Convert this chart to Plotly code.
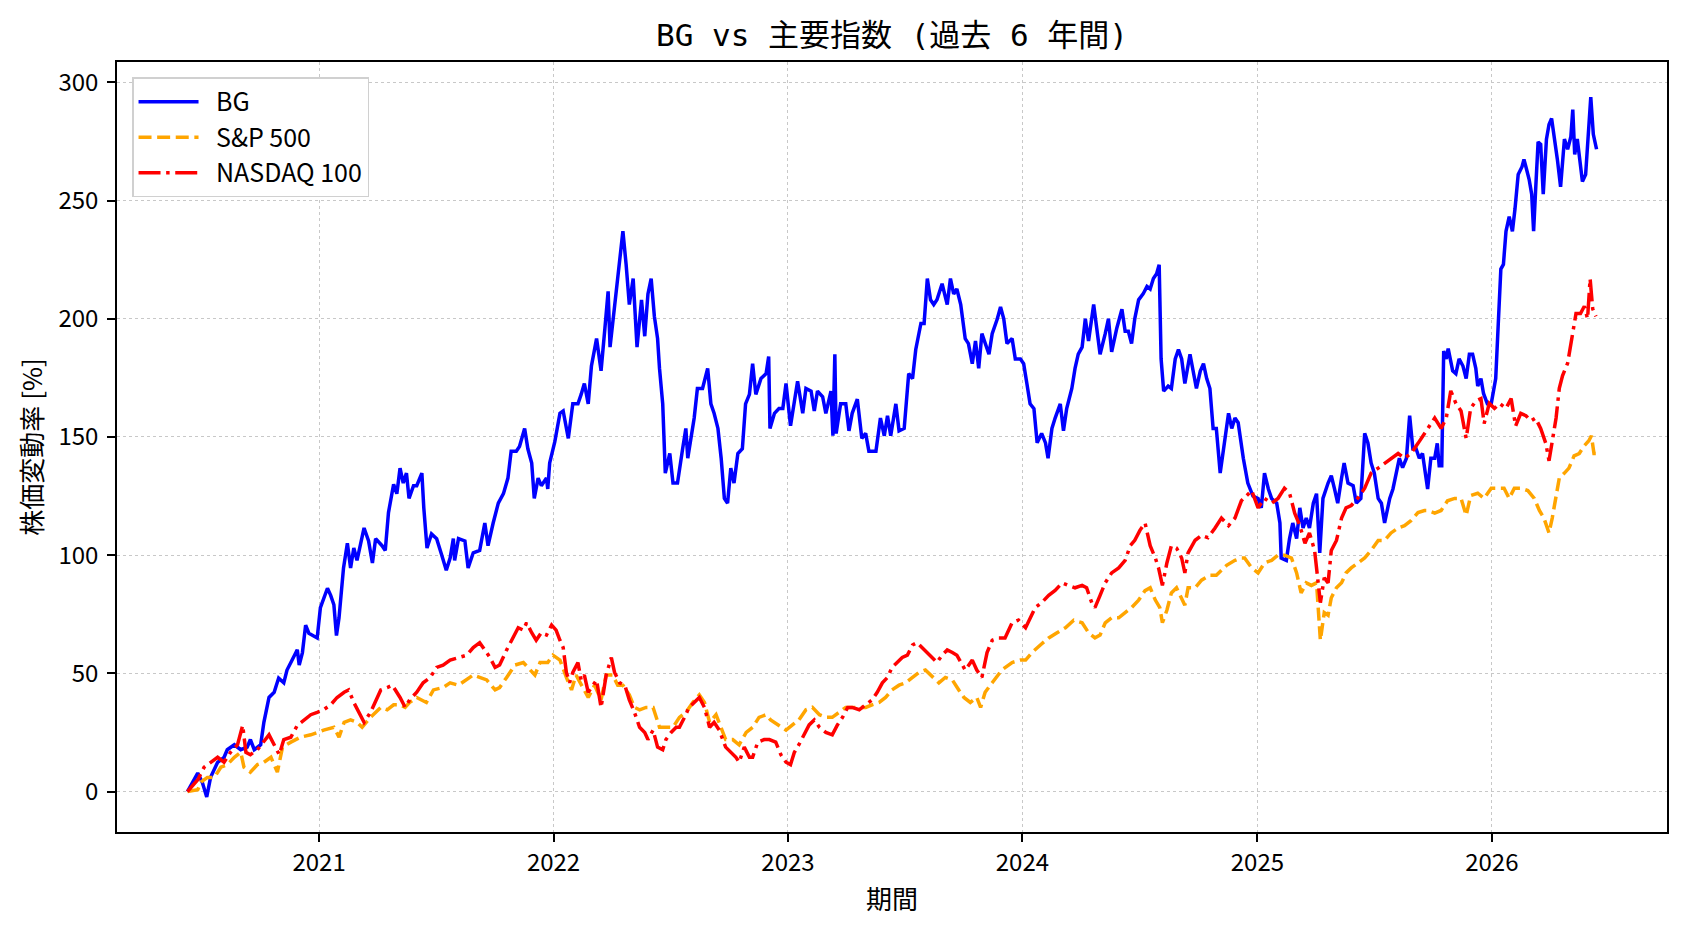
import pandas as pd
import plotly.graph_objects as go

START = pd.Timestamp("2020-06-10")

# BG: days since 2020-06-10 and % change
bg_days = [0,16,23,30,36,47,57,62,73,83,93,98,104,114,119,127,135,142,150,155,161,171,174,179,184,189,202,207,218,223,228,232,236,243,249,254,259,264,275,282,288,293,303,308,313,321,326,331,336,341,345,352,357,365,368,373,380,388,396,403,409,414,416,422,432,437,445,455,463,468,476,484,492,499,504,512,517,525,530,536,540,546,551,559,561,564,572,580,585,593,600,608,613,618,624,629,637,644,650,655,658,662,670,674,678,683,688,694,700,707,712,717,722,727,732,735,740,744,751,756,763,771,776,779,784,789,794,802,810,815,820,826,831,836,841,846,851,857,864,869,875,880,885,893,901,905,907,914,921,927,932,939,945,950,958,963,971,976,981,989,994,1002,1005,1008,1010,1017,1025,1030,1035,1043,1050,1056,1061,1072,1079,1085,1090,1095,1103,1108,1116,1121,1123,1129,1134,1142,1147,1152,1157,1162,1167,1175,1183,1188,1193,1198,1204,1211,1216,1222,1227,1232,1237,1248,1253,1261,1266,1271,1276,1284,1289,1297,1302,1307,1312,1318,1323,1330,1336,1340,1346,1351,1359,1364,1369,1377,1382,1387,1393,1398,1403,1411,1416,1421,1429,1434,1439,1447,1455,1460,1465,1470,1475,1481,1488,1494,1499,1504,1509,1513,1516,1520,1527,1532,1538,1543,1548,1553,1561,1566,1571,1577,1582,1587,1592,1597,1602,1608,1615,1621,1626,1631,1636,1644,1651,1659,1667,1672,1677,1683,1688,1696,1701,1703,1711,1716,1721,1727,1732,1737,1742,1747,1753,1758,1763,1768,1776,1781,1786,1791,1797,1801,1807,1815,1820,1827,1833,1838,1843,1848,1854,1859,1864,1872,1877,1882,1887,1892,1898,1903,1908,1913,1918,1923,1929,1931,1936,1942,1946,1949,1953,1956,1960,1963,1970,1975,1980,1986,1991,1996,2001,2006,2009,2014,2018,2024,2030,2034,2037,2041,2045,2049,2053,2058,2063,2067,2072,2078,2081,2084,2089,2093,2096,2099,2103,2107,2111,2116,2120,2124,2128,2133,2138,2144,2149,2154,2157,2160,2164,2168,2172,2177,2181,2185,2189,2194]
bg_vals = [0.0,7.8,4.0,-2.3,6.0,12.4,14.5,17.7,19.8,17.7,18.8,22.0,17.7,19.8,29.3,39.8,42.0,48.0,46.0,51.4,54.6,60.0,53.5,58.8,70.4,67.0,65.0,77.8,86.0,83.0,79.0,66.0,73.5,94.6,105.0,94.6,103.0,97.8,111.5,106.0,96.7,107.0,104.0,102.0,118.0,130.0,126.0,136.8,130.5,134.7,124.0,129.4,129.4,134.7,120.0,103.0,109.0,107.0,100.0,93.6,98.8,107.0,97.8,107.0,106.0,94.6,101.0,102.0,113.6,104.0,113.6,122.0,126.0,132.6,144.0,144.0,146.0,153.6,145.0,139.0,124.0,132.6,129.4,132.6,128.0,139.0,148.0,160.0,161.0,149.4,164.0,164.0,168.0,172.6,164.0,180.0,191.6,178.0,196.0,211.6,188.0,198.0,215.8,227.0,237.0,223.0,206.0,217.0,188.0,208.0,192.6,210.5,217.0,201.0,191.6,179.0,164.0,134.7,143.0,130.5,130.5,145.0,153.6,141.0,149.4,158.0,170.5,170.5,179.0,164.0,160.0,153.6,141.0,124.0,122.0,136.8,130.5,143.0,145.0,164.0,168.0,181.0,168.0,174.7,176.8,184.0,153.6,160.0,162.0,162.0,172.6,154.7,165.0,173.6,160.0,170.5,169.4,161.0,169.4,167.0,160.0,169.4,150.5,185.0,151.5,164.0,164.0,152.6,160.0,166.0,149.4,151.5,144.0,144.0,158.0,150.5,159.0,150.5,164.0,152.6,153.6,170.5,176.8,174.7,187.0,198.0,198.0,217.0,208.0,206.0,208.0,214.8,206.0,217.0,210.5,212.6,206.0,191.6,189.5,181.0,190.6,179.0,193.7,185.0,193.7,200.0,205.0,200.0,189.5,191.6,183.0,183.0,181.0,172.6,164.0,162.0,147.5,151.5,147.5,141.0,153.6,158.0,164.0,152.6,162.0,170.5,179.0,185.0,188.0,200.0,190.6,206.0,196.0,185.0,193.7,200.0,186.0,196.0,204.0,194.7,194.7,189.5,200.0,208.0,210.5,213.7,212.6,217.0,219.0,222.8,183.0,169.4,171.5,170.5,183.0,187.0,183.0,172.6,185.0,176.8,170.5,177.9,181.0,174.7,170.5,153.6,153.6,134.7,149.4,160.0,153.6,158.0,156.0,141.0,130.5,125.0,124.0,120.0,134.7,128.0,124.0,122.0,113.6,98.8,97.8,107.0,113.6,107.0,120.0,111.5,115.7,111.5,122.0,126.0,101.0,124.0,130.5,133.6,128.0,122.0,132.6,139.0,130.5,129.4,122.0,124.0,151.5,147.5,139.0,134.7,124.0,122.0,113.6,124.0,128.0,134.7,141.0,137.0,141.0,159.0,145.0,145.0,141.0,143.0,132.6,128.0,141.0,141.0,147.3,137.8,137.8,186.3,183.0,187.4,178.0,176.8,183.0,180.0,174.7,185.0,185.0,179.0,171.5,174.7,168.4,164.0,164.0,170.5,174.7,198.0,221.0,223.0,237.0,243.2,237.0,246.4,261.0,264.3,267.4,264.3,259.0,252.7,237.0,253.7,274.8,273.8,252.7,276.0,282.2,284.7,278.0,267.4,255.8,276.0,271.7,277.0,288.5,269.5,276.0,265.3,258.0,261.0,278.0,293.8,278.0,271.7]

# S&P 500
sp_days = [0,16,21,31,42,52,62,73,83,88,98,109,119,130,140,148,161,176,192,202,212,228,236,244,254,264,272,285,301,311,321,331,339,346,357,372,383,398,409,422,435,445,455,466,479,486,497,510,523,533,541,549,561,569,580,590,598,605,616,624,634,644,652,662,670,678,688,696,704,714,725,735,745,756,766,776,787,797,805,813,823,831,838,849,859,870,880,890,901,908,921,932,942,952,963,973,984,994,1004,1015,1025,1035,1046,1056,1066,1077,1087,1097,1108,1118,1129,1139,1149,1160,1170,1180,1191,1201,1209,1219,1229,1235,1242,1253,1268,1284,1297,1305,1315,1328,1341,1354,1367,1380,1393,1403,1413,1421,1429,1439,1450,1460,1470,1481,1491,1499,1507,1514,1518,1525,1532,1540,1548,1553,1558,1569,1579,1592,1602,1610,1618,1631,1641,1646,1657,1667,1677,1688,1698,1708,1719,1727,1734,1742,1750,1758,1761,1764,1770,1776,1781,1789,1797,1804,1812,1822,1833,1843,1854,1864,1874,1885,1895,1905,1916,1926,1931,1942,1952,1962,1973,1983,1991,1998,2009,2019,2030,2040,2050,2058,2066,2076,2087,2097,2105,2112,2120,2125,2131,2136,2144,2151,2159,2167,2175,2182,2186,2190,2194]
sp_vals = [0.0,0.8,4.0,6.0,6.0,10.3,11.4,14.5,16.6,10.3,8.2,11.4,12.4,14.5,8.2,18.8,20.9,23.0,24.0,25.0,26.0,27.2,23.0,29.3,30.3,29.3,27.2,31.4,35.6,34.6,36.7,36.7,35.6,37.7,39.8,37.7,43.0,44.0,46.0,45.0,47.2,49.3,48.3,47.2,43.0,44.0,48.3,53.5,54.6,51.4,49.3,54.6,54.6,57.7,55.6,48.3,43.0,49.3,44.0,39.8,45.0,38.8,49.3,49.3,45.0,45.0,40.9,35.6,34.6,35.6,35.6,27.2,27.2,27.2,31.4,33.5,37.7,40.9,37.7,29.3,32.5,27.2,22.0,22.0,19.8,25.0,27.2,31.4,32.5,30.3,28.2,26.0,28.2,30.3,34.6,35.6,32.5,31.4,31.4,33.5,35.6,35.6,35.6,35.6,36.7,37.7,39.8,43.0,45.0,46.0,48.3,50.4,51.4,48.3,46.0,48.3,47.2,43.0,39.8,37.7,39.8,35.6,42.0,46.0,51.4,54.6,55.6,55.6,58.8,62.0,65.0,67.2,69.3,72.5,71.4,67.2,65.0,66.2,71.4,73.5,73.5,75.7,77.8,81.0,85.0,86.2,81.0,77.8,71.4,76.7,84.0,86.2,82.0,78.8,86.2,86.2,89.4,91.5,91.5,93.6,95.7,97.8,98.8,98.8,94.6,92.5,96.7,97.8,100.0,100.0,98.8,92.5,84.0,88.3,87.2,88.3,73.5,64.0,75.7,74.6,82.0,86.2,88.3,92.5,94.6,96.7,98.8,102.0,106.2,106.2,109.4,111.5,112.5,114.6,118.0,118.9,118.9,117.8,118.9,123.0,124.0,124.0,116.8,125.2,126.2,124.0,128.3,128.3,128.3,124.0,128.3,128.3,127.3,124.0,118.9,115.7,109.4,115.7,124.0,132.6,134.7,136.8,142.0,143.0,146.3,148.4,150.5,143.0,143.0]

# NASDAQ 100
nq_days = [0,16,26,36,47,57,67,78,86,91,98,109,119,127,135,143,150,161,171,181,192,202,212,223,233,244,251,259,267,275,285,301,311,319,331,339,346,357,367,378,388,398,409,422,435,445,455,463,471,479,486,497,507,515,523,528,536,543,551,559,567,574,580,585,590,595,600,608,613,618,624,629,637,644,652,660,665,673,681,688,696,704,712,717,725,732,740,745,753,761,766,774,781,789,797,805,813,820,828,838,846,854,859,867,875,880,888,898,906,916,924,932,939,945,952,960,968,976,984,994,1004,1012,1020,1028,1035,1046,1056,1066,1074,1082,1090,1097,1105,1113,1121,1129,1136,1144,1152,1160,1167,1175,1183,1191,1198,1211,1222,1229,1237,1245,1253,1263,1273,1284,1294,1305,1312,1320,1330,1341,1351,1362,1372,1382,1393,1400,1408,1413,1421,1429,1439,1450,1460,1468,1475,1483,1491,1499,1507,1512,1518,1525,1532,1540,1548,1553,1558,1569,1579,1589,1600,1610,1621,1631,1641,1652,1657,1667,1677,1688,1698,1708,1716,1724,1732,1740,1747,1755,1760,1764,1770,1776,1781,1789,1797,1804,1812,1822,1833,1843,1854,1864,1874,1885,1895,1905,1916,1926,1931,1942,1952,1960,1967,1975,1983,1991,1998,2006,2014,2019,2027,2035,2043,2053,2061,2068,2076,2084,2092,2099,2107,2115,2120,2125,2131,2136,2141,2149,2156,2162,2169,2175,2180,2184,2188,2193]
nq_vals = [0.0,5.0,10.3,12.4,14.5,12.4,16.6,19.8,28.0,16.6,15.6,17.7,20.9,24.0,19.8,15.6,22.0,23.0,28.0,30.3,32.5,33.5,34.6,36.7,39.8,42.0,43.0,37.7,33.5,29.3,33.5,43.0,44.0,45.0,39.8,35.6,38.8,42.0,46.0,48.3,52.5,53.5,55.6,56.7,57.7,60.9,63.0,59.9,56.7,52.5,53.5,59.9,65.0,69.3,68.3,71.4,67.2,64.0,67.2,66.2,70.4,68.3,64.0,60.9,50.4,46.0,50.4,54.6,47.2,49.3,42.0,44.0,47.2,35.6,49.3,56.7,50.4,46.0,45.0,38.8,33.5,27.2,25.0,22.0,26.0,18.8,17.7,22.0,25.0,27.2,27.2,31.4,35.6,37.7,39.8,35.6,27.2,29.3,26.0,18.8,16.6,14.5,12.4,18.8,14.5,14.5,20.9,22.0,22.0,20.9,15.6,12.4,11.4,16.6,19.8,24.0,28.2,30.3,27.2,25.0,24.0,28.2,31.4,35.6,35.6,34.6,36.7,38.8,42.0,46.0,48.3,52.5,54.6,56.7,57.7,62.0,63.0,60.9,58.8,56.7,54.6,57.7,59.9,58.8,57.7,51.4,55.6,51.4,48.3,58.8,64.0,65.0,65.0,71.4,72.5,69.3,73.5,77.8,79.9,83.0,85.1,88.3,87.2,86.2,87.2,86.2,79.9,77.8,83.0,88.3,92.5,94.6,97.8,104.0,106.3,110.5,113.6,104.0,98.8,94.6,87.2,96.7,104.0,103.0,98.8,92.5,101.0,106.3,108.4,107.4,111.5,115.7,112.5,115.7,123.0,126.2,127.3,120.0,124.0,122.0,124.0,128.3,126.2,117.8,112.5,105.0,109.4,102.0,90.4,79.9,90.4,88.3,102.0,106.2,115.7,120.0,121.0,124.0,128.3,134.7,136.8,138.9,141.0,143.0,141.0,143.0,147.3,151.5,153.6,158.0,153.6,158.0,169.5,164.2,161.0,149.4,162.1,165.2,166.2,155.7,164.2,162.1,164.2,162.1,166.2,154.6,160.0,159.0,156.8,158.0,153.6,147.3,139.9,147.3,158.0,170.6,175.9,181.2,193.7,202.2,202.2,205.3,200.0,216.9,204.2,201.0]

series_names = ["BG", "S&P 500", "NASDAQ 100"]
y_ticks = [0, 50, 100, 150, 200, 250, 300]

FONT = "Noto Sans CJK JP, sans-serif"
TITLE_FONT = "DejaVu Sans Mono, Noto Sans CJK JP, monospace"
PAD = "\u2002"  # small gap between legend sample and label


def to_dates(days):
    return START + pd.to_timedelta(days, unit="D")


fig = go.Figure()
fig.add_trace(go.Scatter(x=to_dates(bg_days), y=bg_vals, mode="lines", name=PAD + series_names[0],
                         line=dict(color="#0000ff", width=3.5)))
fig.add_trace(go.Scatter(x=to_dates(sp_days), y=sp_vals, mode="lines", name=PAD + series_names[1],
                         line=dict(color="#ffa500", width=3.5, dash="13px,5.6px")))
fig.add_trace(go.Scatter(x=to_dates(nq_days), y=nq_vals, mode="lines", name=PAD + series_names[2],
                         line=dict(color="#ff0000", width=3.5, dash="22px,5.6px,3.5px,5.6px")))

all_days = bg_days + sp_days + nq_days
d0, d1 = min(all_days), max(all_days)
pad_d = (d1 - d0) * 0.05
x_range = [START + pd.Timedelta(days=d0 - pad_d), START + pd.Timedelta(days=d1 + pad_d)]
all_vals = bg_vals + sp_vals + nq_vals
v0, v1 = min(all_vals), max(all_vals)
pad_v = (v1 - v0) * 0.05
y_range = [v0 - pad_v, v1 + pad_v]

axis_common = dict(
    showline=True, linecolor="black", linewidth=1.6, mirror=True,
    ticks="outside", ticklen=8, tickwidth=1.6, tickcolor="black",
    showgrid=True, gridcolor="#c8c8c8", gridwidth=1.2, griddash="dot",
    zeroline=False, tickfont=dict(family=FONT, size=24, color="black"),
)

fig.update_layout(
    width=1688, height=932,
    margin=dict(l=117, r=21, t=62, b=100),
    paper_bgcolor="white", plot_bgcolor="white",
    title=dict(text="BG vs 主要指数 (過去 6 年間)", x=0.5, xref="paper", xanchor="center",
               y=1 - 35.5 / 932, yref="container", yanchor="middle",
               font=dict(family=TITLE_FONT, size=31, color="black")),
    xaxis=dict(type="date", range=x_range, tick0="2021-01-01", dtick="M12", tickformat="%Y",
               title=dict(text="期間", font=dict(family=FONT, size=26, color="black"), standoff=14),
               **axis_common),
    yaxis=dict(range=y_range, tickvals=y_ticks, ticklabelstandoff=4,
               title=dict(text="株価変動率 [%]", font=dict(family=FONT, size=26, color="black"), standoff=8),
               **axis_common),
    legend=dict(x=0.0097, y=0.98, xanchor="left", yanchor="top", bgcolor="white",
                bordercolor="#d0d0d0", borderwidth=1.5, itemwidth=60,
                font=dict(family=FONT, size=25, color="black")),
    showlegend=True,
)

fig.write_html("out.html")
